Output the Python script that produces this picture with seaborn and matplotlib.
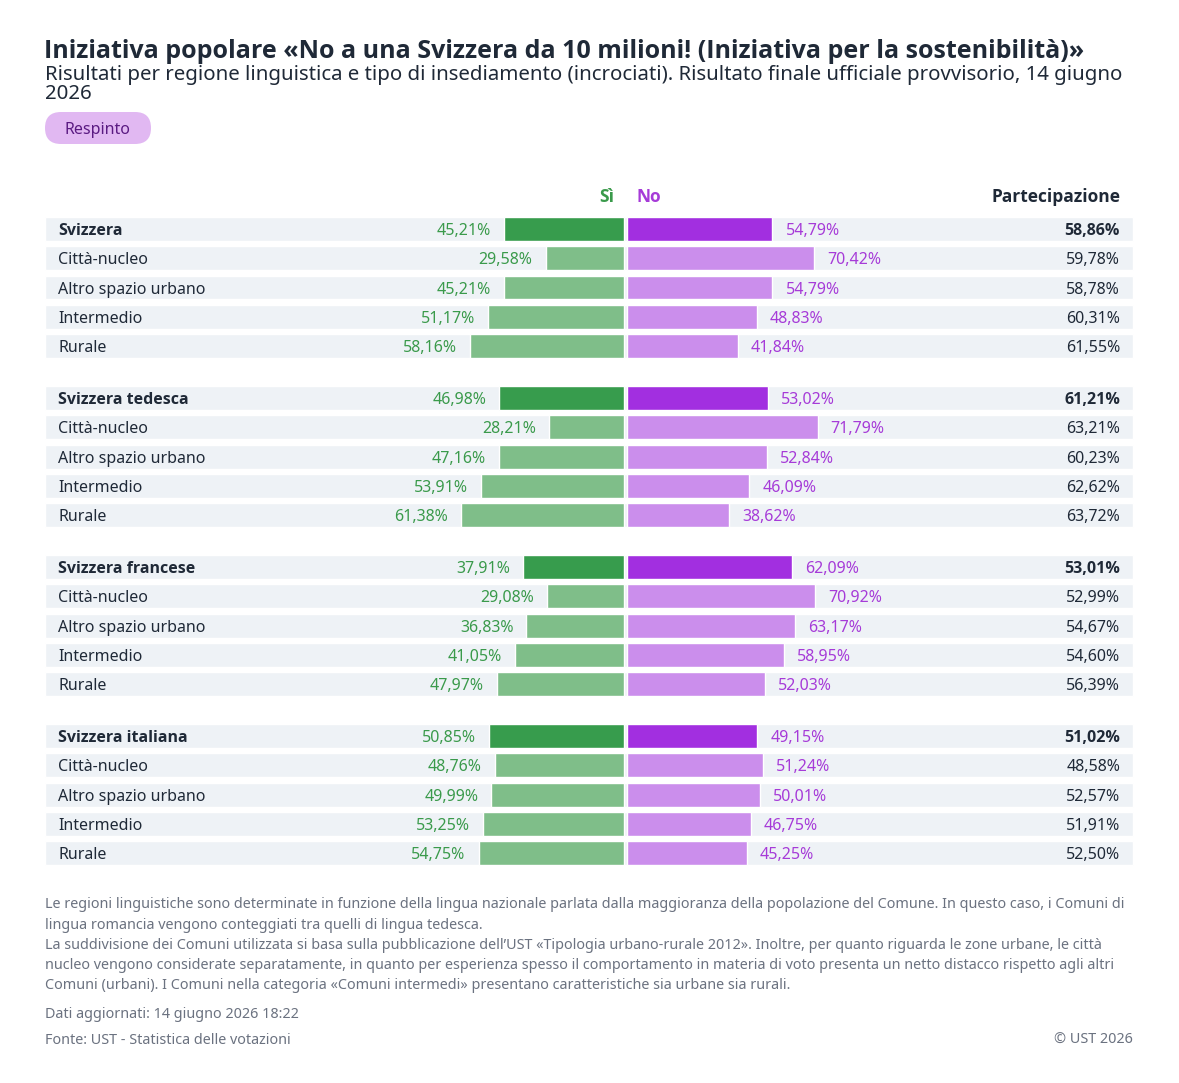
import numpy as np
import pandas as pd
import matplotlib
matplotlib.use("Agg")
import matplotlib.pyplot as plt
from matplotlib import font_manager
from matplotlib.patches import FancyBboxPatch
import seaborn as sns

# ---- data ----
regions = ["Svizzera", "Svizzera tedesca", "Svizzera francese", "Svizzera italiana"]
subtypes = ["Città-nucleo", "Altro spazio urbano", "Intermedio", "Rurale"]

yes_pct = [45.21, 29.58, 45.21, 51.17, 58.16,
           46.98, 28.21, 47.16, 53.91, 61.38,
           37.91, 29.08, 36.83, 41.05, 47.97,
           50.85, 48.76, 49.99, 53.25, 54.75]
no_pct = [54.79, 70.42, 54.79, 48.83, 41.84,
          53.02, 71.79, 52.84, 46.09, 38.62,
          62.09, 70.92, 63.17, 58.95, 52.03,
          49.15, 51.24, 50.01, 46.75, 45.25]
turnout = [58.86, 59.78, 58.78, 60.31, 61.55,
           61.21, 63.21, 60.23, 62.62, 63.72,
           53.01, 52.99, 54.67, 54.60, 56.39,
           51.02, 48.58, 52.57, 51.91, 52.50]

title = "Iniziativa popolare «No a una Svizzera da 10 milioni! (Iniziativa per la sostenibilità)»"
subtitle = ("Risultati per regione linguistica e tipo di insediamento (incrociati). "
            "Risultato finale ufficiale provvisorio, 14 giugno\n2026")
notes = [
    "Le regioni linguistiche sono determinate in funzione della lingua nazionale parlata dalla maggioranza della popolazione del Comune. In questo caso, i Comuni di",
    "lingua romancia vengono conteggiati tra quelli di lingua tedesca.",
    "La suddivisione dei Comuni utilizzata si basa sulla pubblicazione dell’UST «Tipologia urbano-rurale 2012». Inoltre, per quanto riguarda le zone urbane, le città",
    "nucleo vengono considerate separatamente, in quanto per esperienza spesso il comportamento in materia di voto presenta un netto distacco rispetto agli altri",
    "Comuni (urbani). I Comuni nella categoria «Comuni intermedi» presentano caratteristiche sia urbane sia rurali.",
]

# ---- table ----
rows = []
for g, reg in enumerate(regions):
    for i, name in enumerate([reg] + subtypes):
        rows.append({"name": name, "group": g, "total": i == 0})
df = pd.DataFrame(rows)
df["yes"] = yes_pct
df["no"] = no_pct
df["turnout"] = turnout
GROUP_STEP = 5.78
df["pos"] = df["group"] * GROUP_STEP + df.groupby("group").cumcount()

def fmt(v):
    return f"{v:.2f}".replace(".", ",") + "%"

# ---- style ----
sns.set_theme(style="white")
plt.rcParams["font.family"] = ["Noto Sans", "DejaVu Sans"]

# bold face: Noto Sans may ship without a bold file, fall back to Open Sans
def bold_family():
    for fam in ["Noto Sans", "Open Sans", "Lato"]:
        try:
            path = font_manager.findfont(font_manager.FontProperties(family=fam, weight="bold"),
                                         fallback_to_default=False)
        except Exception:
            continue
        if "bold" in path.lower():
            return fam
    return "DejaVu Sans"

BOLD = bold_family()

W, H = 1179, 1083
fig = plt.figure(figsize=(W / 100, H / 100), dpi=100)
fig.patch.set_facecolor("white")

# axes covering the whole figure; x in percent, y in rows
PX_PER_PCT = 2.66
CX = 625.5
ROW_PX = 29.25
Y0 = 229
ax = fig.add_axes([0, 0, 1, 1])

def px_x(px):
    return (px - CX) / PX_PER_PCT

GAP = 0.45
bg_left, bg_right = px_x(45), px_x(1133)
ax.barh(df["pos"], bg_right - bg_left, left=bg_left, height=0.82,
        color="#eef2f6", zorder=0)

GREEN_D, GREEN_L = "#379c4d", "#7fbe89"
PURP_D, PURP_L = "#a22fe0", "#cb8eec"

df["yes_neg"] = -df["yes"]
df["kind"] = np.where(df["total"], "total", "sub")
sns.barplot(data=df, x="yes_neg", y="pos", hue="kind", orient="h", native_scale=True,
            palette={"total": GREEN_D, "sub": GREEN_L}, width=0.82,
            dodge=False, legend=False, ax=ax, zorder=2, saturation=1)
sns.barplot(data=df, x="no", y="pos", hue="kind", orient="h", native_scale=True,
            palette={"total": PURP_D, "sub": PURP_L}, width=0.82,
            dodge=False, legend=False, ax=ax, zorder=2, saturation=1)
# shift bars away from the centre line
for p in ax.patches[len(df):]:
    if p.get_width() < 0:
        p.set_x(-GAP)
    elif p.get_x() == 0:
        p.set_x(GAP)
ax.set_xlim(-CX / PX_PER_PCT, (W - CX) / PX_PER_PCT)
ax.set_ylim((H - Y0) / ROW_PX, -Y0 / ROW_PX)
ax.axis("off")

TXT_GREEN = "#3a9a4b"
TXT_PURP = "#a63bd8"
DARK = "#1f2937"
OFF = 13 / PX_PER_PCT
FS = 11.5
for _, r in df.iterrows():
    kw = dict(family=BOLD, fontweight="bold") if r["total"] else {}
    ax.text(px_x(58), r["pos"], r["name"], ha="left", va="center_baseline", fontsize=FS,
            color=DARK, **kw)
    ax.text(-r["yes"] - GAP - OFF, r["pos"], fmt(r["yes"]), ha="right",
            va="center_baseline", fontsize=FS, color=TXT_GREEN)
    ax.text(r["no"] + GAP + OFF, r["pos"], fmt(r["no"]), ha="left",
            va="center_baseline", fontsize=FS, color=TXT_PURP)
    ax.text(px_x(1120), r["pos"], fmt(r["turnout"]), ha="right", va="center_baseline",
            fontsize=FS, color=DARK, **kw)

# column headers
hy = (195 - Y0) / ROW_PX
ax.text(px_x(614), hy, "Sì", ha="right", va="center_baseline", fontsize=12.5,
        family=BOLD, fontweight="bold", color=TXT_GREEN)
ax.text(px_x(636), hy, "No", ha="left", va="center_baseline", fontsize=12.5,
        family=BOLD, fontweight="bold", color=TXT_PURP)
ax.text(px_x(1120), hy, "Partecipazione", ha="right", va="center_baseline", fontsize=12.5,
        family=BOLD, fontweight="bold", color=DARK)

# ---- titles ----
def fx(px):
    return px / W

def fy(py):
    return 1 - py / H

fig.text(fx(44), fy(48), title, ha="left", va="center_baseline", fontsize=18,
         family=BOLD, fontweight="bold", color=DARK)
fig.text(fx(45), fy(65), subtitle, ha="left", va="top", fontsize=14.7,
         color=DARK, linespacing=0.95)

badge = FancyBboxPatch((45, H - 144), 106, 32,
                       boxstyle="round,pad=0,rounding_size=16", transform=None,
                       facecolor="#e1b8f2", edgecolor="none")
fig.patches.append(badge)
fig.text(fx(98), fy(128), "Respinto", ha="center", va="center_baseline", fontsize=11.5,
         color="#5a1a82")

# ---- footnotes ----
GREY = "#6b7280"
FN = 10.35
for k, line in enumerate(notes):
    fig.text(fx(45), fy(903 + 20.2 * k), line, ha="left", va="center_baseline",
             fontsize=FN, color=GREY)
fig.text(fx(45), fy(1013), "Dati aggiornati: 14 giugno 2026 18:22", ha="left",
         va="center_baseline", fontsize=FN, color=GREY)
fig.text(fx(45), fy(1038), "Fonte: UST - Statistica delle votazioni", ha="left",
         va="center_baseline", fontsize=FN, color=GREY)
fig.text(fx(1133), fy(1038), "© UST 2026", ha="right", va="center_baseline",
         fontsize=FN, color=GREY)

fig.savefig("out.png", dpi=100, facecolor="white")
